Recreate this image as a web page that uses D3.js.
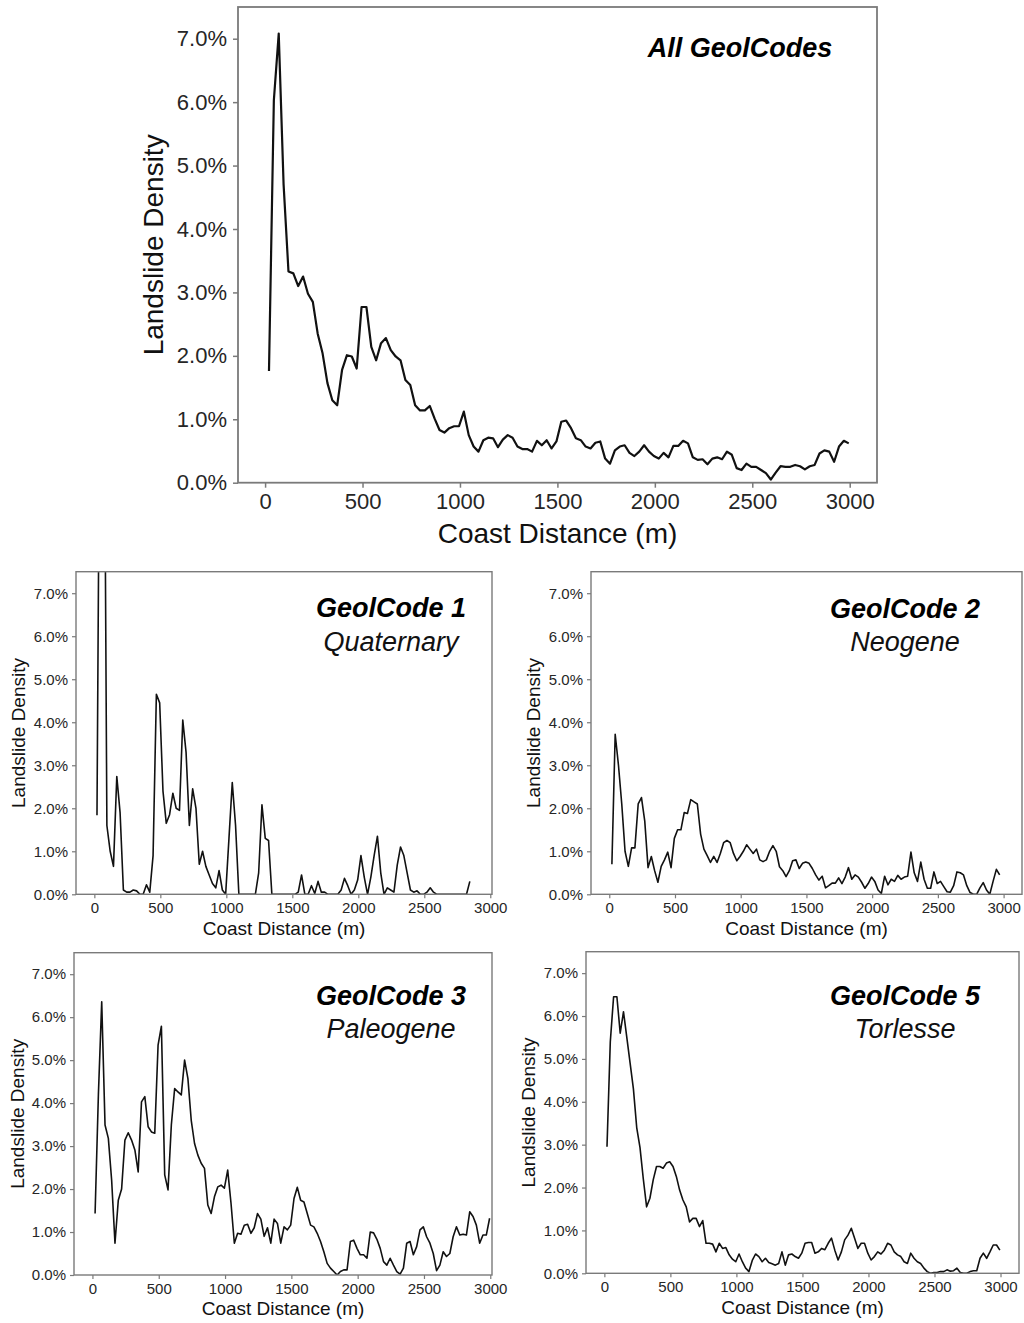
<!DOCTYPE html>
<html>
<head>
<meta charset="utf-8">
<script src="https://cdn.jsdelivr.net/npm/d3@7"></script>
<style>
  body { margin: 0; background: #fff; }
  text { font-family: Arial, "Liberation Sans", sans-serif; }
</style>
</head>
<body>
<svg id="chart" width="1024" height="1323"></svg>
<script>
// distances: first bin at 20 m, then every 25 m
const xStart = 20, xStep = 25;
const xTicks = [0, 500, 1000, 1500, 2000, 2500, 3000];
const yTicks = [0, 1, 2, 3, 4, 5, 6, 7];

// landslide density (%) per distance bin
const allCodes = [1.76, 6.03, 7.08, 4.7, 3.33, 3.30, 3.1, 3.25, 2.98, 2.85,
  2.35, 2.04, 1.57, 1.30, 1.22, 1.78, 2.01, 1.99, 1.80, 2.77,
  2.77, 2.14, 1.93, 2.20, 2.28, 2.09, 1.99, 1.93, 1.62, 1.54,
  1.22, 1.14, 1.14, 1.21, 1.01, 0.83, 0.79, 0.86, 0.89, 0.89,
  1.12, 0.75, 0.57, 0.49, 0.67, 0.71, 0.70, 0.56, 0.68, 0.75,
  0.71, 0.57, 0.53, 0.53, 0.49, 0.66, 0.59, 0.67, 0.54, 0.65,
  0.96, 0.98, 0.86, 0.70, 0.67, 0.57, 0.54, 0.63, 0.65, 0.38,
  0.30, 0.51, 0.57, 0.59, 0.47, 0.42, 0.49, 0.59, 0.49, 0.42,
  0.38, 0.47, 0.40, 0.58, 0.58, 0.66, 0.62, 0.40, 0.36, 0.37,
  0.29, 0.38, 0.40, 0.37, 0.49, 0.44, 0.23, 0.20, 0.30, 0.25,
  0.25, 0.20, 0.15, 0.05, 0.16, 0.26, 0.25, 0.25, 0.28, 0.26,
  0.21, 0.26, 0.28, 0.46, 0.51, 0.49, 0.33, 0.57, 0.66, 0.62];

const geol1 = [1.84, 14, 15, 1.6, 1.0, 0.65, 2.74, 1.9, 0.1, 0.05,
  0.05, 0.1, 0.08, 0, 0, 0.22, 0.05, 0.9, 4.65, 4.45,
  2.4, 1.65, 1.85, 2.35, 2.0, 1.95, 4.05, 3.3, 1.6, 2.45,
  2.0, 0.7, 1.0, 0.65, 0.45, 0.25, 0.15, 0.55, 0.1, 0,
  1.3, 2.6, 1.6, 0, 0, 0, 0, 0, 0, 0.5,
  2.08, 1.3, 1.25, 0, 0, 0, 0, 0, 0, 0,
  0, 0.05, 0.45, 0, 0, 0.2, 0.02, 0.3, 0.05, 0.05,
  0, 0, 0, 0, 0.1, 0.37, 0.2, 0, 0.1, 0.33,
  0.9, 0.4, 0, 0.4, 0.9, 1.35, 0.5, 0, 0.15, 0.1,
  0.05, 0.68, 1.1, 0.9, 0.5, 0.1, 0.05, 0.08, 0, 0,
  0.05, 0.15, 0.05, 0, 0, 0, 0, 0, 0, 0,
  0, 0, 0, 0.3];

const geol2 = [0.7, 3.72, 3.0, 2.1, 1.0, 0.65, 1.08, 1.08, 2.1, 2.25,
  1.7, 0.62, 0.88, 0.55, 0.28, 0.65, 0.8, 0.98, 0.62, 1.3,
  1.5, 1.5, 1.9, 1.88, 2.2, 2.15, 2.1, 1.4, 1.05, 0.9,
  0.74, 0.88, 0.74, 0.95, 1.2, 1.25, 1.2, 0.95, 0.78, 0.88,
  1.0, 1.15, 1.05, 0.95, 1.05, 0.8, 0.76, 0.8, 1.0, 1.13,
  1.0, 0.64, 0.55, 0.41, 0.55, 0.78, 0.8, 0.6, 0.72, 0.75,
  0.72, 0.6, 0.45, 0.33, 0.42, 0.15, 0.2, 0.26, 0.26, 0.38,
  0.25, 0.4, 0.62, 0.35, 0.45, 0.4, 0.28, 0.14, 0.25, 0.4,
  0.3, 0.1, 0.02, 0.42, 0.22, 0.35, 0.3, 0.44, 0.35, 0.4,
  0.42, 0.98, 0.5, 0.3, 0.75, 0.35, 0.14, 0.14, 0.52, 0.25,
  0.3, 0.18, 0.06, 0.05, 0.2, 0.52, 0.5, 0.45, 0.2, 0.04,
  0, 0, 0.15, 0.27, 0.1, 0, 0.3, 0.58, 0.45];

const geol3 = [1.43, 4.2, 6.36, 3.49, 3.18, 2.2, 0.74, 1.74, 2.0, 3.14,
  3.31, 3.14, 2.91, 2.4, 4.03, 4.15, 3.45, 3.33, 3.3, 5.35,
  5.79, 2.33, 1.98, 3.49, 4.34, 4.26, 4.19, 5.0, 4.57, 3.6,
  3.06, 2.79, 2.6, 2.48, 1.63, 1.43, 1.82, 2.05, 2.09, 2.02,
  2.44, 1.67, 0.74, 0.97, 0.95, 1.16, 1.18, 0.97, 1.1, 1.43,
  1.3, 0.9, 1.1, 0.74, 1.3, 1.2, 0.74, 1.12, 1.05, 1.16,
  1.78, 2.04, 1.74, 1.7, 1.43, 1.16, 1.12, 0.97, 0.78, 0.54,
  0.27, 0.16, 0.08, 0, 0.08, 0.12, 0.12, 0.78, 0.81, 0.62,
  0.47, 0.47, 0.39, 1.0, 0.98, 0.83, 0.62, 0.31, 0.23, 0.39,
  0.23, 0.08, 0.02, 0.16, 0.74, 0.78, 0.47, 0.66, 1.05, 1.12,
  0.89, 0.74, 0.5, 0.1, 0.23, 0.54, 0.43, 0.5, 0.89, 1.12,
  0.93, 0.95, 0.93, 1.47, 1.36, 1.16, 0.74, 0.93, 0.93, 1.32];

const geol5 = [2.95, 5.4, 6.45, 6.45, 5.6, 6.1, 5.5, 4.9, 4.3, 3.4,
  2.93, 2.2, 1.55, 1.75, 2.18, 2.49, 2.49, 2.45, 2.57, 2.6,
  2.49, 2.26, 1.94, 1.71, 1.55, 1.2, 1.28, 1.28, 1.09, 1.23,
  0.7, 0.7, 0.68, 0.5, 0.7, 0.58, 0.6, 0.43, 0.33, 0.27,
  0.45, 0.27, 0.12, 0.04, 0.3, 0.45, 0.39, 0.27, 0.35, 0.25,
  0.22, 0.19, 0.23, 0.5, 0.19, 0.43, 0.45, 0.39, 0.35, 0.47,
  0.7, 0.72, 0.72, 0.47, 0.5, 0.58, 0.55, 0.7, 0.82, 0.54,
  0.31, 0.5, 0.78, 0.89, 1.05, 0.82, 0.58, 0.7, 0.7, 0.47,
  0.31, 0.39, 0.5, 0.45, 0.54, 0.7, 0.66, 0.5, 0.43, 0.39,
  0.27, 0.23, 0.47, 0.35, 0.27, 0.23, 0.12, 0.04, 0, 0.02,
  0.02, 0.04, 0.04, 0.08, 0.05, 0.06, 0.12, 0.02, 0, 0,
  0.04, 0.06, 0.06, 0.35, 0.47, 0.35, 0.5, 0.66, 0.66, 0.54];

const panelTitles = ["All GeolCodes", "GeolCode 1", "GeolCode 2", "GeolCode 3", "GeolCode 5"];
const panelSubtitles = [null, "Quaternary", "Neogene", "Paleogene", "Torlesse"];
const panelValues = [allCodes, geol1, geol2, geol3, geol5];

const svg = d3.select("#chart");

// frame boxes [left, top, right, bottom], right edge of the small left panels is cut near 3000
const layouts = [
  { box: [238, 7, 877, 482.7], xMax: 3140, big: true, ylab: 163, xlab: 543, tx: 740, ty: [57] },
  { box: [76, 571.7, 492, 894.3], xMax: 3013, ylab: 25, xlab: 935, tx: 391, ty: [617, 651] },
  { box: [591, 571.7, 1022, 894.3], xMax: 3140, ylab: 540, xlab: 935, tx: 905, ty: [618, 651] },
  { box: [74, 952.7, 492, 1275], xMax: 3013, ylab: 24, xlab: 1315, tx: 391, ty: [1005, 1038] },
  { box: [586, 951.7, 1019, 1273.3], xMax: 3140, ylab: 535, xlab: 1314, tx: 905, ty: [1005, 1038] }
];

layouts.forEach(function(p, k) {
  const [l, t, r, b] = p.box;
  const big = !!p.big;
  const x = d3.scaleLinear().domain([-139, p.xMax]).range([l, r]);
  const y = d3.scaleLinear().domain([0, 7.5]).range([b, t]);
  const g = svg.append("g");

  const clipId = "clip" + k;
  g.append("clipPath").attr("id", clipId)
    .append("rect").attr("x", l).attr("y", t).attr("width", r - l).attr("height", b - t);

  const tickSize = big ? 22 : 15;
  const xAxis = g.append("g")
    .attr("transform", "translate(0," + b + ")")
    .call(d3.axisBottom(x).tickValues(xTicks).tickFormat(d3.format("d"))
      .tickSize(big ? 5 : 4).tickPadding(big ? 6 : 4));
  const yAxis = g.append("g")
    .attr("transform", "translate(" + l + ",0)")
    .call(d3.axisLeft(y).tickValues(yTicks).tickFormat(d => d.toFixed(1) + "%")
      .tickSize(big ? 5 : 4).tickPadding(big ? 6 : 4));
  [xAxis, yAxis].forEach(function(a) {
    a.select(".domain").remove();
    a.selectAll("line").attr("stroke", "#7a7a7a").attr("stroke-width", big ? 1.5 : 1.2);
    a.selectAll("text").attr("fill", "#262626").style("font-size", tickSize + "px")
      .style("font-family", "Arial, 'Liberation Sans', sans-serif");
  });

  const line = d3.line()
    .x((d, i) => x(xStart + i * xStep))
    .y(d => y(d));
  g.append("path")
    .datum(panelValues[k])
    .attr("clip-path", "url(#" + clipId + ")")
    .attr("fill", "none")
    .attr("stroke", "#111")
    .attr("stroke-width", big ? 2.2 : 1.6)
    .attr("stroke-linejoin", "round")
    .attr("d", line);

  g.append("rect")
    .attr("x", l).attr("y", t).attr("width", r - l).attr("height", b - t)
    .attr("fill", "none").attr("stroke", "#7a7a7a").attr("stroke-width", big ? 1.8 : 1.4);

  // axis titles
  const labSize = big ? 28 : 19;
  g.append("text")
    .attr("x", (l + r) / 2).attr("y", p.xlab)
    .attr("text-anchor", "middle").attr("fill", "#111")
    .style("font-size", labSize + "px")
    .text("Coast Distance (m)");
  g.append("text")
    .attr("transform", "translate(" + p.ylab + "," + (t + b) / 2 + ") rotate(-90)")
    .attr("text-anchor", "middle").attr("fill", "#111")
    .style("font-size", labSize + "px")
    .text("Landslide Density");

  // panel title
  g.append("text")
    .attr("x", p.tx).attr("y", p.ty[0])
    .attr("text-anchor", "middle").attr("fill", "#000")
    .style("font-size", "27px").style("font-weight", "bold").style("font-style", "italic")
    .text(panelTitles[k]);
  if (panelSubtitles[k]) {
    g.append("text")
      .attr("x", p.tx).attr("y", p.ty[1])
      .attr("text-anchor", "middle").attr("fill", "#111")
      .style("font-size", "27px").style("font-style", "italic")
      .text(panelSubtitles[k]);
  }
});
</script>
</body>
</html>
